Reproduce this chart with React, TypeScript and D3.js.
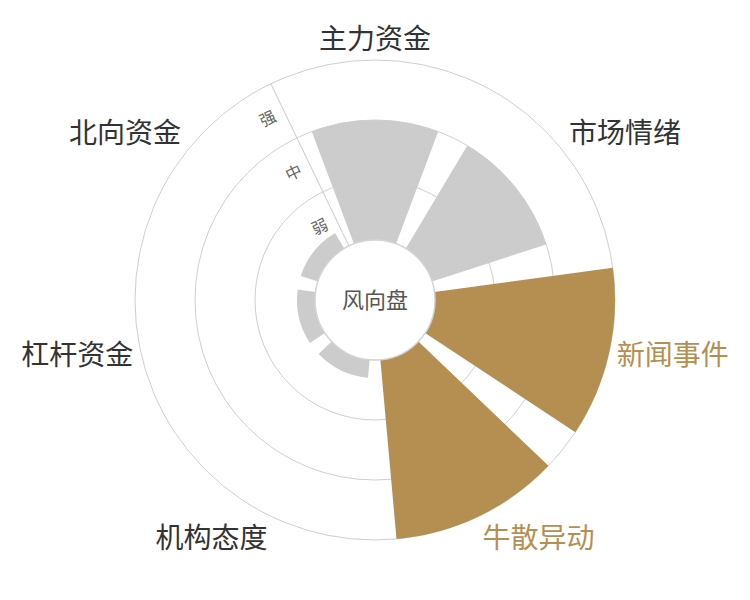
import * as d3 from "d3";

// wind-vane categories, clockwise from the top
const categories = ["主力资金", "市场情绪", "新闻事件", "牛散异动", "机构态度", "杠杆资金", "北向资金"];
const values = [2, 2, 3, 3, 0.3, 0.3, 0.3];
const levels = ["弱", "中", "强"];
const highlighted = ["新闻事件", "牛散异动"];

const W = 750;
const H = 600;
const cx = 375;
const cy = 300;
const inner = 60;
const outer = 240;
const gold = "#b58f52";
const grey = "#cccccc";
const font = "'Noto Sans CJK SC', 'Noto Sans', sans-serif";

export default function App() {
  const step = (2 * Math.PI) / categories.length;
  const angle = d3
    .scaleBand<string>()
    .domain(categories)
    .range([-step / 2, 2 * Math.PI - step / 2])
    .paddingInner(0.2)
    .paddingOuter(0.1);
  const radius = d3.scaleLinear().domain([0, levels.length]).range([inner, outer]);
  const arc = d3.arc<any>();

  const axisDeg = ((-step / 2) * 180) / Math.PI;
  const labelR = outer + 8;

  return (
    <svg
      width={W}
      height={H}
      style={{ position: "absolute", left: 0, top: 0, background: "#fff" }}
      fontFamily={font}
    >
      <g transform={`translate(${cx},${cy})`}>
        {radius
          .ticks(levels.length)
          .filter((t) => t > 0)
          .map((t) => (
            <circle key={t} r={radius(t)} fill="none" stroke="#cfcfcf" strokeWidth={1} />
          ))}

        <g transform={`rotate(${axisDeg})`}>
          <line x1={0} y1={-inner} x2={0} y2={-outer} stroke="#cfcfcf" strokeWidth={1} />
        </g>

        {categories.map((c, i) => {
          const a0 = angle(c)!;
          const d = arc({
            innerRadius: inner,
            outerRadius: radius(values[i]),
            startAngle: a0,
            endAngle: a0 + angle.bandwidth(),
          });
          return <path key={c} d={d!} fill={highlighted.includes(c) ? gold : grey} />;
        })}

        <g transform={`rotate(${axisDeg})`}>
          {levels.map((l, i) => (
            <text
              key={l}
              x={-18}
              y={-radius(i + 0.5)}
              dy="0.36em"
              textAnchor="middle"
              fontSize={16}
              fill="#666"
            >
              {l}
            </text>
          ))}
        </g>

        <circle r={inner} fill="#fff" stroke="#d4d4d4" strokeWidth={1.5} />
        <text y={0} dy="0.36em" textAnchor="middle" fontSize={22} fill="#555">
          风向盘
        </text>

        {categories.map((c) => {
          const a = angle(c)! + angle.bandwidth() / 2;
          const sx = Math.sin(a);
          const sy = -Math.cos(a);
          const anchor = Math.abs(sx) < 0.3 ? "middle" : sx > 0 ? "start" : "end";
          const dy = Math.abs(sy) < 0.3 ? "0.36em" : sy > 0 ? "0.88em" : "-0.1em";
          return (
            <text
              key={c}
              x={sx * labelR}
              y={sy * labelR}
              dy={dy}
              textAnchor={anchor}
              fontSize={28}
              fill={highlighted.includes(c) ? gold : "#333"}
            >
              {c}
            </text>
          );
        })}
      </g>
    </svg>
  );
}
